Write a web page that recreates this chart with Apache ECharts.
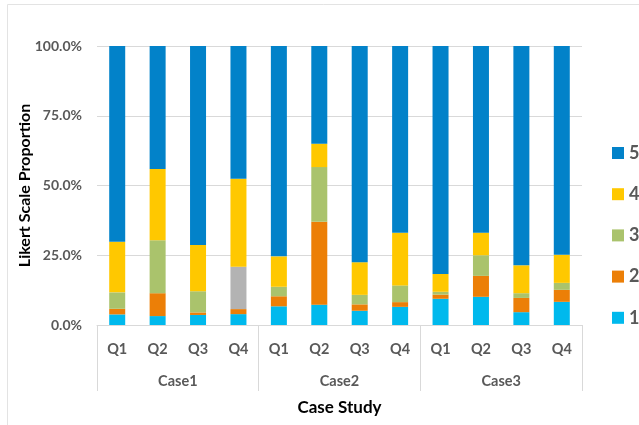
<!DOCTYPE html>
<html>
<head>
<meta charset="utf-8">
<script src="https://cdn.jsdelivr.net/npm/echarts@6/dist/echarts.min.js"></script>
<style>
html,body{margin:0;padding:0;background:#fff;}
#chart{width:639px;height:425px;}
</style>
</head>
<body>
<div id="chart"></div>
<script>
// Categories
const quarters = ['Q1','Q2','Q3','Q4','Q1','Q2','Q3','Q4','Q1','Q2','Q3','Q4'];
const cases = ['Case1','Case2','Case3'];
const yTicks = [0, 25, 50, 75, 100];
const legendOrder = ['5','4','3','2','1'];

// Series values (% of responses), per Likert level
const level1 = [3.8, 3.2, 3.6, 3.9, 6.7, 7.3, 5.1, 6.5, 9.4, 10.1, 4.6, 8.3];
const level2 = [2.0, 8.2, 0.9, 1.8, 3.6, 29.7, 2.3, 1.7, 1.5, 7.5, 5.1, 4.3];
const level3 = [5.9, 19.0, 7.6, 15.2, 3.4, 19.6, 3.4, 6.0, 1.0, 7.4, 1.7, 2.5];
const level4 = [18.1, 25.5, 16.6, 31.5, 10.9, 8.4, 11.7, 18.9, 6.4, 8.1, 10.0, 10.1];
const level5 = [70.2, 44.1, 71.3, 47.6, 75.4, 35.0, 77.5, 66.9, 81.7, 66.9, 78.6, 74.8];
// index of the level-3 bar drawn in grey in the original
const greyLevel3Index = 3;

const colors = {
  '1': '#00B9ED',
  '2': '#EC7F07',
  '3': '#AAC36C',
  '4': '#FFC800',
  '5': '#0282C9'
};
const greyColor = '#B3B3B3';
const font = 'Lato, "Open Sans", sans-serif';
const gridColor = '#D9D9D9';
const labelColor = '#595959';

const chart = echarts.init(document.getElementById('chart'), null, {renderer:'canvas'});

function mkSeries(name, data) {
  return {
    name: name,
    type: 'bar',
    stack: 'total',
    barWidth: 16,
    xAxisIndex: 0,
    data: data,
    itemStyle: { color: colors[name] },
    emphasis: { disabled: true }
  };
}

const l3data = level3.map((v, i) => i === greyLevel3Index ? { value: v, itemStyle: { color: greyColor } } : v);

const option = {
  animation: false,
  backgroundColor: '#fff',
  textStyle: { fontFamily: font },
  graphic: [{
    type: 'rect',
    shape: { x: 7.5, y: 4.5, width: 700, height: 500 },
    style: { fill: 'none', stroke: '#E3E3E3', lineWidth: 1 },
    silent: true
  }],
  grid: { left: 97, right: 57, top: 46, bottom: 100, containLabel: false },
  legend: {
    orient: 'vertical',
    left: 607,
    top: 139,
    itemWidth: 12,
    itemHeight: 12,
    itemGap: 23.2,
    icon: 'rect',
    data: legendOrder,
    selectedMode: false,
    textStyle: { fontFamily: font, fontSize: 18, fontWeight: 'bold', color: labelColor, lineHeight: 12, padding: [0, 0, 0, 0] }
  },
  xAxis: [
    {
      type: 'category',
      data: quarters,
      position: 'bottom',
      boundaryGap: true,
      axisLine: { show: true, lineStyle: { color: gridColor, width: 1 } },
      axisTick: { show: false },
      axisLabel: { margin: 17, fontFamily: font, fontSize: 14.5, fontWeight: 'bold', color: labelColor, interval: 0 }
    },
    {
      type: 'category',
      data: cases,
      position: 'bottom',
      boundaryGap: true,
      axisLine: { show: false },
      axisTick: { show: true, length: 66, lineStyle: { color: gridColor, width: 1 } },
      axisLabel: { margin: 49, fontFamily: font, fontSize: 14.5, fontWeight: 'bold', color: labelColor },
      name: 'Case Study',
      nameLocation: 'middle',
      nameGap: 74,
      nameMoveOverlap: false,
      nameTextStyle: { fontFamily: font, fontSize: 17, fontWeight: 'bold', color: '#000' }
    }
  ],
  yAxis: {
    type: 'value',
    min: yTicks[0],
    max: yTicks[yTicks.length - 1],
    interval: 25,
    axisLine: { show: false },
    axisTick: { show: false },
    splitLine: { show: true, lineStyle: { color: gridColor, width: 1 } },
    axisLabel: {
      margin: 15,
      fontFamily: font, fontSize: 14, fontWeight: 'bold', color: labelColor,
      formatter: v => v.toFixed(1) + '%'
    },
    name: 'Likert Scale Proportion',
    nameLocation: 'middle',
    nameGap: 64,
    nameMoveOverlap: false,
    nameRotate: 90,
    nameTextStyle: { fontFamily: font, fontSize: 16, fontWeight: 'bold', color: '#000' }
  },
  series: [
    mkSeries('1', level1),
    mkSeries('2', level2),
    mkSeries('3', l3data),
    mkSeries('4', level4),
    mkSeries('5', level5)
  ]
};
chart.setOption(option);
</script>
</body>
</html>
